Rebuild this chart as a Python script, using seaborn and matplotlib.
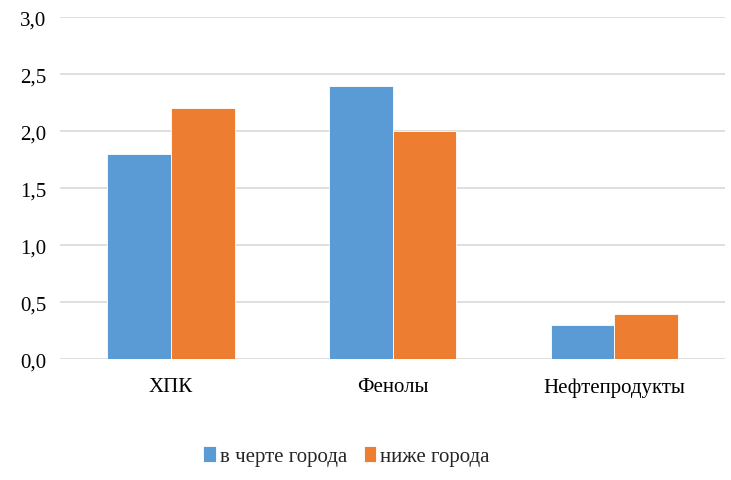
import matplotlib.pyplot as plt
import matplotlib.ticker as mticker
import seaborn as sns
import pandas as pd

# данные
categories = ["ХПК", "Фенолы", "Нефтепродукты"]
v_cherte = [1.8, 2.4, 0.3]
nizhe = [2.2, 2.0, 0.4]
series_names = ["в черте города", "ниже города"]
yticks = [0.0, 0.5, 1.0, 1.5, 2.0, 2.5, 3.0]

df = pd.DataFrame({
    "cat": categories * 2,
    "val": v_cherte + nizhe,
    "ser": [series_names[0]] * 3 + [series_names[1]] * 3,
})

sns.set_style("white")
plt.rcParams["font.family"] = ["Liberation Serif", "DejaVu Serif"]

fig = plt.figure(figsize=(7.31, 4.81), dpi=100)
ax = fig.add_axes([0.082, 0.251, 0.91, 0.711])

sns.barplot(data=df, x="cat", y="val", hue="ser",
            palette=["#5B9BD5", "#ED7D31"], saturation=1, width=0.575,
            edgecolor="white", linewidth=0.6, ax=ax)

ax.set_ylim(0, 3.0)
ax.set_yticks(yticks)
ax.yaxis.set_major_formatter(mticker.FuncFormatter(lambda v, p: f"{v:.1f}".replace(".", ",")))
ax.grid(axis="y", color="#D9D9D9", linewidth=1.2)
ax.set_axisbelow(True)
for s in ax.spines.values():
    s.set_visible(False)
ax.tick_params(axis="both", length=0, labelsize=15, colors="black")
ax.tick_params(axis="x", pad=13)
ax.tick_params(axis="y", pad=10)
ax.set_xlabel("")
ax.set_ylabel("")

ax.legend(loc="upper center", bbox_to_anchor=(0.474, 0.11), bbox_transform=fig.transFigure,
          ncol=2, frameon=False,
          fontsize=15, handlelength=0.6, handleheight=0.8, handletextpad=0.2,
          columnspacing=0.8)

fig.savefig("out.png", dpi=100)
